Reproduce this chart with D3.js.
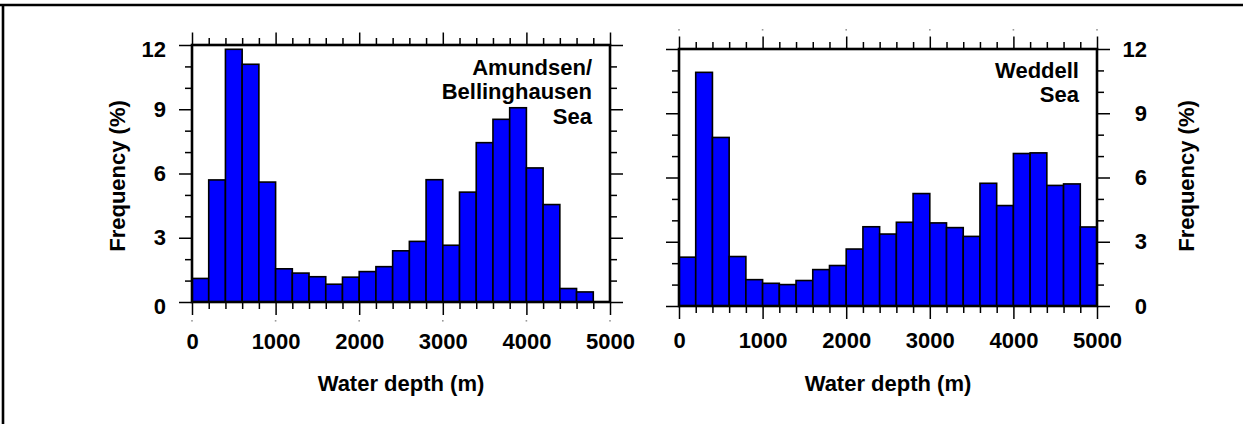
<!DOCTYPE html>
<html lang="en">
  <head>
    <meta charset="UTF-8">
    <title>Water depth frequency</title>
    <script src="https://d3js.org/d3.v7.min.js"></script>
    <style>
      body {
        margin: 0;
        padding: 0;
        background-color: #fff;
      }
      svg text {
        font-family: 'Liberation Sans', Arial, sans-serif;
        font-weight: bold;
        font-size: 22px;
        fill: #000;
      }
      .axis line {
        stroke: #000;
        stroke-width: 1.5;
      }
    </style>
  </head>
  <body>
    <script>
      // bin start depths (m), bins are 200 m wide
      const binStarts = [0, 200, 400, 600, 800, 1000, 1200, 1400, 1600, 1800, 2000, 2200, 2400,
        2600, 2800, 3000, 3200, 3400, 3600, 3800, 4000, 4200, 4400, 4600, 4800];
      const binWidth = 200;
      const amundsenFreq = [1.1, 5.7, 11.8, 11.1, 5.6, 1.55, 1.35, 1.18, 0.83, 1.16, 1.42, 1.65, 2.39,
        2.83, 5.71, 2.65, 5.13, 7.44, 8.53, 9.07, 6.26, 4.55, 0.63, 0.47, 0];
      const weddellFreq = [2.28, 10.91, 7.87, 2.31, 1.23, 1.06, 1.0, 1.19, 1.7, 1.89, 2.66, 3.7, 3.36,
        3.91, 5.25, 3.88, 3.66, 3.25, 5.73, 4.69, 7.12, 7.15, 5.63, 5.7, 3.69];
      const xTicks = [0, 1000, 2000, 3000, 4000, 5000];
      const xMinorTicks = [200, 400, 600, 800, 1200, 1400, 1600, 1800, 2200, 2400, 2600, 2800,
        3200, 3400, 3600, 3800, 4200, 4400, 4600, 4800];
      const yTicks = [0, 3, 6, 9, 12];
      const yMinorTicks = [1, 2, 4, 5, 7, 8, 10, 11];
      const amundsenLabel = ["Amundsen/", "Bellinghausen", "Sea"];
      const weddellLabel = ["Weddell", "Sea"];

      const svg = d3.select("body").append("svg").attr("width", 1243).attr("height", 424);

      // outer border (top and left only)
      svg.append("line").attr("x1", 0).attr("x2", 1243).attr("y1", 5).attr("y2", 5)
        .attr("stroke", "#000").attr("stroke-width", 2.6);
      svg.append("line").attr("x1", 3).attr("x2", 3).attr("y1", 5).attr("y2", 424)
        .attr("stroke", "#000").attr("stroke-width", 2.6);

      function drawPanel(cfg) {
        const x = d3.scaleLinear().domain([0, 5000]).range([cfg.x0, cfg.x1]);
        const y = d3.scaleLinear().domain([0, 12]).range([cfg.yBot, cfg.yTop]);
        const g = svg.append("g");

        g.selectAll(".bar").data(binStarts).enter().append("rect")
          .attr("class", "bar")
          .attr("x", d => x(d))
          .attr("width", d => x(d + binWidth) - x(d))
          .attr("y", (d, i) => y(cfg.values[i]))
          .attr("height", (d, i) => y(0) - y(cfg.values[i]))
          .attr("fill", "#0000ff")
          .attr("stroke", "#000")
          .attr("stroke-width", 1.6);

        function addAxis(axis, transform, withText) {
          const a = g.append("g").attr("class", "axis").attr("transform", transform).call(axis);
          a.select(".domain").remove();
          a.attr("font-size", null).attr("font-family", null);
          if (!withText) a.selectAll("text").remove();
          return a;
        }

        // bottom
        const bx = addAxis(d3.axisBottom(x).tickValues(xTicks).tickSize(13).tickPadding(cfg.xLabelPad).tickFormat(d3.format("d")),
          `translate(0,${cfg.yBot})`, true);
        bx.selectAll("text").attr("dy", "0.71em");
        addAxis(d3.axisBottom(x).tickValues(xMinorTicks).tickSize(7).tickFormat(""), `translate(0,${cfg.yBot})`, false);
        // top
        addAxis(d3.axisTop(x).tickValues(xTicks).tickSize(12.5).tickFormat(""), `translate(0,${cfg.yTop})`, false);
        addAxis(d3.axisTop(x).tickValues(xMinorTicks).tickSize(7).tickFormat(""), `translate(0,${cfg.yTop})`, false);
        // left
        const ly = addAxis(d3.axisLeft(y).tickValues(yTicks).tickSize(13).tickPadding(13).tickFormat(d3.format("d")),
          `translate(${cfg.x0},0)`, cfg.labelSide === "left");
        addAxis(d3.axisLeft(y).tickValues(yMinorTicks).tickSize(7).tickFormat(""), `translate(${cfg.x0},0)`, false);
        // end labels sit a little lower on the left panel
        ly.selectAll("text").attr("y", d => (d === 0 || d === 12) ? 4 : 0);
        // right
        const ry = addAxis(d3.axisRight(y).tickValues(yTicks).tickSize(13).tickFormat(d3.format("d")),
          `translate(${cfg.x1},0)`, cfg.labelSide === "right");
        addAxis(d3.axisRight(y).tickValues(yMinorTicks).tickSize(7).tickFormat(""), `translate(${cfg.x1},0)`, false);
        ry.selectAll("text").attr("text-anchor", "end").attr("x", 50);

        // faint dots beyond the major ticks
        g.selectAll(".dot").data(xTicks).enter().append("rect")
          .attr("x", d => x(d) - 0.8).attr("y", cfg.dotY).attr("width", 1.6).attr("height", 1.6)
          .attr("fill", "#999");

        // frame
        g.append("rect")
          .attr("x", cfg.x0).attr("y", cfg.yTop)
          .attr("width", cfg.x1 - cfg.x0).attr("height", cfg.yBot - cfg.yTop)
          .attr("fill", "none").attr("stroke", "#000").attr("stroke-width", 2.6);

        // labels
        g.append("text").attr("x", (cfg.x0 + cfg.x1) / 2).attr("y", 391)
          .attr("text-anchor", "middle").text("Water depth (m)");
        g.append("text").attr("transform", `translate(${cfg.yTitleX},176) rotate(-90)`)
          .attr("text-anchor", "middle").text("Frequency (%)");
        g.append("text").attr("text-anchor", "end")
          .selectAll("tspan").data(cfg.label).enter().append("tspan")
          .attr("x", cfg.x1 - 18).attr("y", (d, i) => cfg.labelY + i * 24.5).text(d => d);
      }

      drawPanel({ x0: 192, x1: 610, yTop: 45, yBot: 302, values: amundsenFreq, labelSide: "left",
        xLabelPad: 18.5, yTitleX: 125, label: amundsenLabel, labelY: 74.5, dotY: 320 });
      drawPanel({ x0: 679, x1: 1097, yTop: 49, yBot: 306, values: weddellFreq, labelSide: "right",
        xLabelPad: 13.5, yTitleX: 1193.5, label: weddellLabel, labelY: 77.5, dotY: 29 });
    </script>
  </body>
</html>
